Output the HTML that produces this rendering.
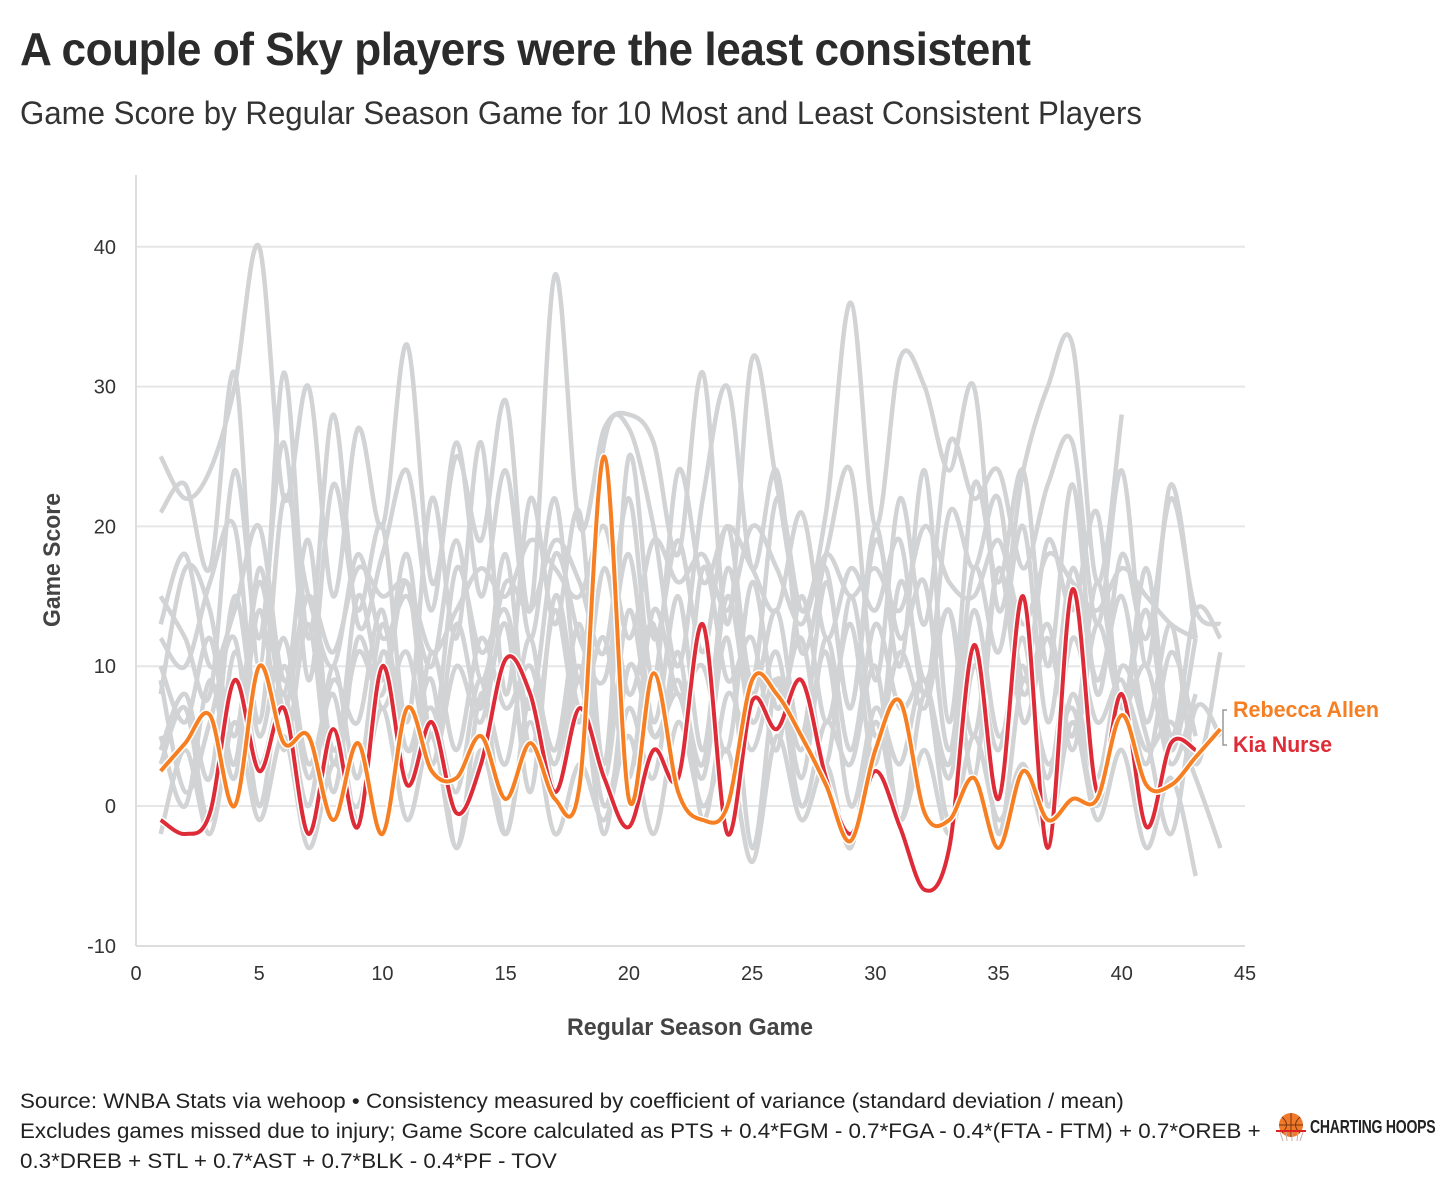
<!DOCTYPE html>
<html><head><meta charset="utf-8">
<style>
html,body{margin:0;padding:0;background:#fff;}
body{width:1456px;height:1192px;position:relative;overflow:hidden;font-family:"Liberation Sans Narrow","Liberation Sans",sans-serif;color:#333;}
.t{position:absolute;white-space:nowrap;transform-origin:0 0;}
</style></head><body>
<div class="t" style="left:20px;top:22px;font-size:46px;font-weight:bold;color:#2b2b2b;letter-spacing:-0.5px;transform:scaleX(0.96);">A couple of Sky players were the least consistent</div>
<div class="t" style="left:20px;top:95px;font-size:32px;color:#333;transform:scaleX(0.975);">Game Score by Regular Season Game for 10 Most and Least Consistent Players</div>
<svg id="chart" width="1456" height="1192" style="position:absolute;left:0;top:0;"></svg>
<div class="t" style="left:20px;top:1087px;font-size:21px;line-height:30px;color:#222;transform:scaleX(1.065);">Source: WNBA Stats via wehoop • Consistency measured by coefficient of variance (standard deviation / mean)<br>Excludes games missed due to injury; Game Score calculated as PTS + 0.4*FGM - 0.7*FGA - 0.4*(FTA - FTM) + 0.7*OREB +<br>0.3*DREB + STL + 0.7*AST + 0.7*BLK - 0.4*PF - TOV</div>
<div style="position:absolute;left:1274px;top:1112px;width:180px;height:32px;">
<svg width="36" height="32" style="position:absolute;left:0;top:0"><circle cx="17" cy="13" r="12" fill="#f07a2a"/><path d="M5 13h24M17 1v24M8 5q9 8 0 16M26 5q-9 8 0 16" stroke="#7a3510" stroke-width="1" fill="none"/><line x1="2" y1="19" x2="32" y2="19" stroke="#d22" stroke-width="2"/><path d="M6 20l3 9M12 20l1 9M18 20v9M24 20l-1 9M29 20l-3 9" stroke="#caa" stroke-width="1"/></svg>
<div class="t" style="left:36px;top:5px;font-size:18px;font-weight:bold;color:#222;letter-spacing:-0.3px;transform:scaleX(0.78);">CHARTING HOOPS</div></div>
<script>
const games = Array.from({length:44},(_,i)=>i+1);
const kiaNurse = [-1,-2,-0.5,9,2.5,7,-2,5.5,-1.5,10,1.5,6,-0.5,3,10.5,8,1,7,2,-1.5,4,2,13,-2,7.5,5.5,9,2,-2,2.5,-1.5,-6,-3,11.5,0.5,15,-3,15.5,1,8,-1.5,4.5,4];
const rebeccaAllen = [2.5,4.5,6.5,0,10,4.5,5,-1,4.5,-2,7,2.5,2,5,0.5,4.5,0.5,1.5,25,0.5,9.5,1,-1,0,9,8,5,1.5,-2.5,4,7.5,-0.5,-1,2,-3,2.5,-1,0.5,0.5,6.5,1.5,1.5,3.5,5.5];
const gray1 = [25,22,24,30,40,22,30,15,27,20,33,16,25,19,29,14,38,20,27,28,26,18,31,13,32,23,14,21,36,20,32,30,24,30,14,24,30,33,16,28];
const gray2 = [21,23,17,31,10,31,12,28,13,18,24,14,26,15,24,12,22,9,26,27,20,10,22,30,17,24,11,18,24,9,22,13,26,22,24,17,23,26,13,24,10,23,12];
const gray3 = [15,12,8,24,12,26,9,23,14,20,6,22,12,26,8,22,13,21,3,25,12,19,11,20,9,22,14,17,7,20,10,24,6,23,16,24,10,23,8,18,12,22,14,13];
const gray4 = [12,10,16,20,6,22,15,10,18,12,15,10,19,9,16,14,19,16,11,22,9,24,16,20,17,14,21,12,17,14,19,8,21,17,22,9,19,14,21,7,17,5,14,12];
const gray5 = [8,17,14,5,16,8,19,3,15,9,18,5,17,11,14,7,18,12,9,18,6,15,4,17,8,14,5,16,7,19,12,16,4,17,11,20,6,17,9,15,6,13,3,11];
const gray6 = [5,0,9,2,14,4,13,1,12,7,11,3,10,6,13,1,15,7,12,2,14,8,10,4,16,7,12,3,15,5,11,7,14,2,17,6,12,4,13,7,10,3,8];
const gray7 = [3,7,-1,11,3,8,0,10,2,13,4,9,-3,8,3,12,1,9,-2,10,5,8,2,12,-3,9,4,11,0,7,3,9,-1,10,4,12,0,8,2,10,5,-2,7,5];
const gray8 = [-2,4,-2,6,-1,5,-3,3,0,7,-1,5,-3,4,-2,6,-2,3,-1,5,-2,6,0,4,-4,5,-1,3,-3,6,-1,4,-2,5,-1,3,-2,6,-1,4,-3,2,-5];
const gray9 = [10,6,12,3,17,7,15,4,11,8,16,3,13,7,18,4,14,6,17,8,13,2,17,9,12,4,15,6,13,3,16,9,14,5,17,8,13,5,16,7,14,4,12];
const gray10 = [13,18,10,14,20,9,15,11,17,15,16,11,14,17,15,19,17,15,20,12,19,16,18,14,20,17,13,18,15,17,14,20,16,15,19,13,18,16,14,17,15,13,12];
const gray11 = [9,1,6,12,0,10,2,8,-1,11,4,7,1,9,-2,8,3,10,0,7,2,11,-1,8,4,9,0,6,3,10,-1,8,2,11,-2,9,3,7,0,8,4,6,2,-3];
const gray12 = [4,8,2,15,5,12,3,9,6,14,2,11,4,12,7,10,4,13,2,14,5,9,3,15,6,11,2,12,4,13,7,9,3,14,5,10,2,12,6,9,3,11,5];
const grays = [gray1,gray2,gray3,gray4,gray5,gray6,gray7,gray8,gray9,gray10,gray11,gray12];
const xTicks = [0,5,10,15,20,25,30,35,40,45];
const yTicks = [-10,0,10,20,30,40];

const svg = document.getElementById('chart');
const NS = 'http://www.w3.org/2000/svg';
const x = v => 136 + v*(1109/45);
const y = v => 806 - v*13.98;
function mk(t,a){const e=document.createElementNS(NS,t);for(const k in a)e.setAttribute(k,a[k]);svg.appendChild(e);return e;}
function pathD(vals){
  const p = vals.map((v,i)=>[x(games[i]),y(v)]);
  let d='M'+p[0][0]+','+p[0][1];
  for(let i=0;i<p.length-1;i++){
    const p0=p[i-1]||p[i],p1=p[i],p2=p[i+1],p3=p[i+2]||p2;
    const c1=[p1[0]+(p2[0]-p0[0])/6,p1[1]+(p2[1]-p0[1])/6];
    const c2=[p2[0]-(p3[0]-p1[0])/6,p2[1]-(p3[1]-p1[1])/6];
    d+=`C${c1[0]},${c1[1]} ${c2[0]},${c2[1]} ${p2[0]},${p2[1]}`;
  }
  return d;
}
yTicks.forEach(t=>{
  if(t>-10){const g=mk('line',{x1:136,x2:1245,y1:y(t),y2:y(t),stroke:'#e6e6e6','stroke-width':2});
  
  }
  const l=mk('text',{x:116,y:y(t)+7,'text-anchor':'end','font-size':20,fill:'#333','font-family':'Liberation Sans Narrow, Liberation Sans, sans-serif'});
  l.textContent=t;
  
  
});
const ax=mk('line',{x1:136,x2:136,y1:175,y2:946,stroke:'#ddd','stroke-width':2});


const bx=mk('line',{x1:136,x2:1245,y1:946,y2:946,stroke:'#ddd','stroke-width':2});


xTicks.forEach(t=>{
  const l=mk('text',{x:x(t),y:980,'text-anchor':'middle','font-size':20,fill:'#333','font-family':'Liberation Sans Narrow, Liberation Sans, sans-serif'});
  l.textContent=t;
  
  
});
grays.forEach(s=>{
  const p=mk('path',{d:pathD(s),fill:'none',stroke:'#d2d3d5','stroke-width':4.5,'stroke-linejoin':'round'});
  
  
});
[[kiaNurse,'#dd2c37','kia-nurse-line'],[rebeccaAllen,'#f57f22','rebecca-allen-line']].forEach(([s,c,n])=>{
  mk('path',{d:pathD(s),fill:'none',stroke:'#fff','stroke-width':7});
  const p=mk('path',{d:pathD(s),fill:'none',stroke:c,'stroke-width':4});
  
  
});
const br=mk('path',{d:'M1227,710h-4v35h4',fill:'none',stroke:'#999','stroke-width':1.5});


const la=mk('text',{x:1233,y:717,'font-size':22,'font-weight':'bold',fill:'#f57f22','font-family':'Liberation Sans Narrow, Liberation Sans, sans-serif',textLength:146,lengthAdjust:'spacingAndGlyphs'});
la.textContent='Rebecca Allen';


const lb=mk('text',{x:1233,y:752,'font-size':22,'font-weight':'bold',fill:'#dd2c37','font-family':'Liberation Sans Narrow, Liberation Sans, sans-serif',textLength:99,lengthAdjust:'spacingAndGlyphs'});
lb.textContent='Kia Nurse';


const xt=mk('text',{x:690,y:1035,'text-anchor':'middle','font-size':24,'font-weight':'bold',fill:'#444','font-family':'Liberation Sans Narrow, Liberation Sans, sans-serif',textLength:246,lengthAdjust:'spacingAndGlyphs'});
xt.textContent='Regular Season Game';


const yt=mk('text',{x:0,y:0,'text-anchor':'middle','font-size':24,'font-weight':'bold',fill:'#444',transform:'translate(60,560) rotate(-90)','font-family':'Liberation Sans Narrow, Liberation Sans, sans-serif',textLength:134,lengthAdjust:'spacingAndGlyphs'});
yt.textContent='Game Score';


</script>
</body></html>
